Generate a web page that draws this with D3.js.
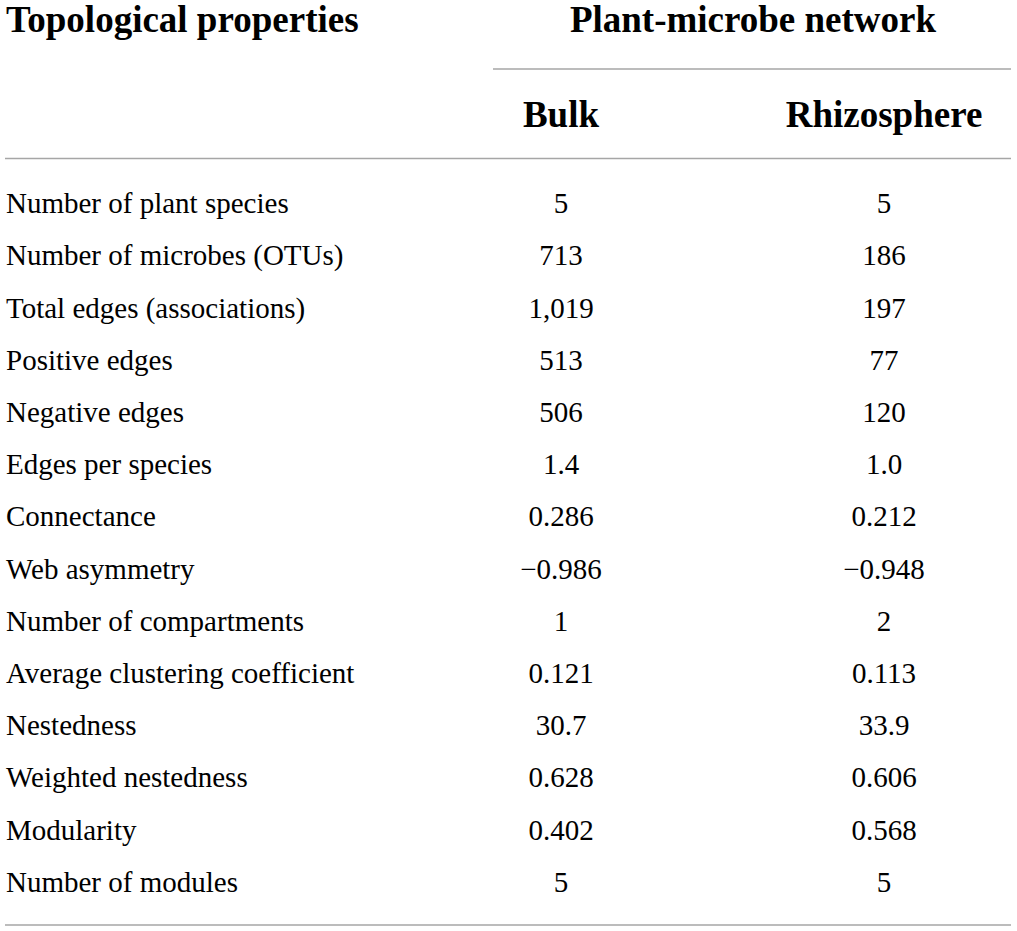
<!DOCTYPE html>
<html><head><meta charset="utf-8">
<script src="https://cdn.jsdelivr.net/npm/d3@7"></script>
<style>html,body{margin:0;padding:0;background:#fff;}</style>
</head><body>
<svg id="chart" width="1017" height="931"></svg>
<script>
const properties = ["Number of plant species","Number of microbes (OTUs)","Total edges (associations)","Positive edges","Negative edges","Edges per species","Connectance","Web asymmetry","Number of compartments","Average clustering coefficient","Nestedness","Weighted nestedness","Modularity","Number of modules"];
const bulk = ["5","713","1,019","513","506","1.4","0.286","\u22120.986","1","0.121","30.7","0.628","0.402","5"];
const rhizosphere = ["5","186","197","77","120","1.0","0.212","\u22120.948","2","0.113","33.9","0.606","0.568","5"];
const columns = ["Bulk","Rhizosphere"];
const groupTitle = "Plant-microbe network";
const rowHeader = "Topological properties";

const svg = d3.select("#chart");
const font = "'Liberation Serif','Times New Roman',serif";
const lineColor = "#a6a6a6";

const y = d3.scaleBand().domain(properties).range([178, 909]).paddingInner(0);
const x = d3.scalePoint().domain(columns).range([561, 884]);

// rules
const rule = (x1,x2,yy)=>svg.append("line").attr("x1",x1).attr("x2",x2).attr("y1",yy).attr("y2",yy)
  .attr("stroke",lineColor).attr("stroke-width",1.5);
rule(493,1011,69);
rule(5,1011,158.5);
rule(5,1011,925);

// headers
svg.append("text").attr("x",6).attr("y",32).attr("font-family",font).attr("font-weight","bold")
  .attr("font-size",37).attr("fill","#000").text(rowHeader);
svg.append("text").attr("x",753).attr("y",32).attr("text-anchor","middle").attr("font-family",font).attr("font-weight","bold")
  .attr("font-size",37).attr("fill","#000").text(groupTitle);
svg.selectAll("text.col").data(columns).join("text").attr("class","col")
  .attr("x",d=>x(d)).attr("y",127).attr("text-anchor","middle").attr("font-family",font).attr("font-weight","bold")
  .attr("font-size",37).attr("fill","#000").text(d=>d);

// rows
const rows = properties.map((p,i)=>({p, vals:[bulk[i], rhizosphere[i]]}));
const g = svg.selectAll("g.row").data(rows).join("g").attr("class","row")
  .attr("transform",d=>`translate(0,${y(d.p)+y.bandwidth()/2+9})`);
g.append("text").attr("x",6).attr("font-family",font).attr("font-size",29).attr("fill","#000").text(d=>d.p);
g.selectAll("text.v").data(d=>d.vals.map((v,j)=>({v,c:columns[j]}))).join("text").attr("class","v")
  .attr("x",d=>x(d.c)).attr("text-anchor","middle").attr("font-family",font).attr("font-size",29).attr("fill","#000").text(d=>d.v);
</script>
</body></html>
